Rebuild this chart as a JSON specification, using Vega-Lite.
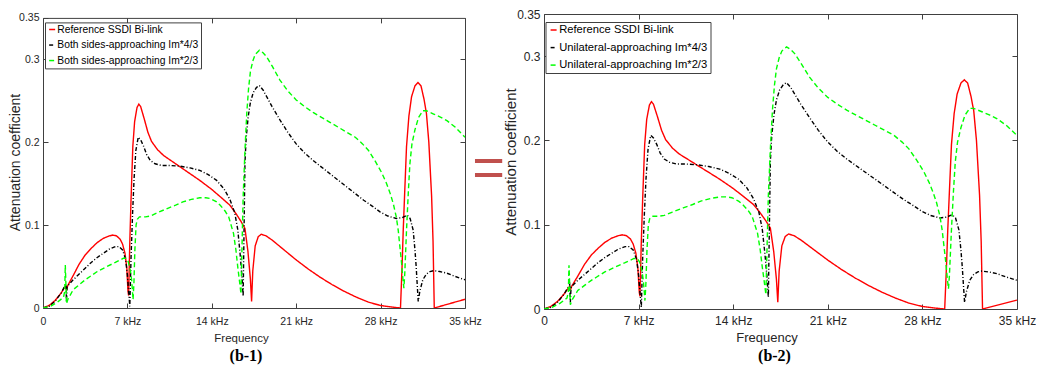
{
"$schema":"https://vega.github.io/schema/vega-lite/v6.json",
"padding":{"left":8,"top":8,"right":0,"bottom":0},
"datasets":{"curves":[
{"f":0,"v":0,"s":"ref"},{"f":0.5,"v":0.003,"s":"ref"},{"f":1.0,"v":0.009,"s":"ref"},{"f":1.5,"v":0.018,"s":"ref"},{"f":1.85,"v":0.026,"s":"ref"},{"f":1.95,"v":0.022,"s":"ref"},{"f":2.05,"v":0.027,"s":"ref"},{"f":2.5,"v":0.039,"s":"ref"},{"f":3.0,"v":0.053,"s":"ref"},{"f":3.5,"v":0.064,"s":"ref"},{"f":4.0,"v":0.072,"s":"ref"},{"f":4.5,"v":0.079,"s":"ref"},{"f":5.0,"v":0.084,"s":"ref"},{"f":5.5,"v":0.087,"s":"ref"},{"f":5.8,"v":0.088,"s":"ref"},{"f":6.1,"v":0.087,"s":"ref"},{"f":6.4,"v":0.083,"s":"ref"},{"f":6.6,"v":0.077,"s":"ref"},{"f":6.8,"v":0.066,"s":"ref"},{"f":6.95,"v":0.048,"s":"ref"},{"f":7.05,"v":0.02,"s":"ref"},{"f":7.1,"v":0.015,"s":"ref"},{"f":7.2,"v":0.08,"s":"ref"},{"f":7.3,"v":0.13,"s":"ref"},{"f":7.45,"v":0.195,"s":"ref"},{"f":7.6,"v":0.225,"s":"ref"},{"f":7.8,"v":0.242,"s":"ref"},{"f":7.95,"v":0.246,"s":"ref"},{"f":8.1,"v":0.243,"s":"ref"},{"f":8.4,"v":0.228,"s":"ref"},{"f":8.7,"v":0.212,"s":"ref"},{"f":9.0,"v":0.201,"s":"ref"},{"f":9.5,"v":0.191,"s":"ref"},{"f":10.0,"v":0.184,"s":"ref"},{"f":10.8,"v":0.176,"s":"ref"},{"f":11.5,"v":0.169,"s":"ref"},{"f":12.2,"v":0.162,"s":"ref"},{"f":13.0,"v":0.154,"s":"ref"},{"f":14.0,"v":0.143,"s":"ref"},{"f":14.8,"v":0.133,"s":"ref"},{"f":15.5,"v":0.124,"s":"ref"},{"f":16.0,"v":0.114,"s":"ref"},{"f":16.4,"v":0.105,"s":"ref"},{"f":16.75,"v":0.096,"s":"ref"},{"f":17.0,"v":0.068,"s":"ref"},{"f":17.2,"v":0.035,"s":"ref"},{"f":17.3,"v":0.008,"s":"ref"},{"f":17.4,"v":0.045,"s":"ref"},{"f":17.6,"v":0.075,"s":"ref"},{"f":17.85,"v":0.086,"s":"ref"},{"f":18.1,"v":0.089,"s":"ref"},{"f":18.5,"v":0.087,"s":"ref"},{"f":19.0,"v":0.082,"s":"ref"},{"f":20.0,"v":0.07,"s":"ref"},{"f":21.0,"v":0.058,"s":"ref"},{"f":22.0,"v":0.047,"s":"ref"},{"f":23.0,"v":0.037,"s":"ref"},{"f":24.0,"v":0.028,"s":"ref"},{"f":25.0,"v":0.02,"s":"ref"},{"f":26.0,"v":0.013,"s":"ref"},{"f":27.0,"v":0.007,"s":"ref"},{"f":28.0,"v":0.003,"s":"ref"},{"f":29.0,"v":0.001,"s":"ref"},{"f":29.65,"v":0.0,"s":"ref"},{"f":29.78,"v":0.05,"s":"ref"},{"f":29.88,"v":0.095,"s":"ref"},{"f":30.0,"v":0.14,"s":"ref"},{"f":30.15,"v":0.195,"s":"ref"},{"f":30.35,"v":0.232,"s":"ref"},{"f":30.57,"v":0.255,"s":"ref"},{"f":30.85,"v":0.268,"s":"ref"},{"f":31.1,"v":0.272,"s":"ref"},{"f":31.35,"v":0.268,"s":"ref"},{"f":31.6,"v":0.252,"s":"ref"},{"f":31.8,"v":0.235,"s":"ref"},{"f":32.0,"v":0.2,"s":"ref"},{"f":32.23,"v":0.135,"s":"ref"},{"f":32.35,"v":0.08,"s":"ref"},{"f":32.45,"v":0.0,"s":"ref"},{"f":35.0,"v":0.0105,"s":"ref"},
{"f":0,"v":0,"s":"k43"},{"f":0.5,"v":0.002,"s":"k43"},{"f":1.0,"v":0.008,"s":"k43"},{"f":1.5,"v":0.018,"s":"k43"},{"f":1.9,"v":0.029,"s":"k43"},{"f":1.95,"v":0.008,"s":"k43"},{"f":2.0,"v":0.026,"s":"k43"},{"f":2.5,"v":0.034,"s":"k43"},{"f":3.0,"v":0.041,"s":"k43"},{"f":3.5,"v":0.048,"s":"k43"},{"f":4.0,"v":0.055,"s":"k43"},{"f":4.5,"v":0.061,"s":"k43"},{"f":5.0,"v":0.066,"s":"k43"},{"f":5.5,"v":0.071,"s":"k43"},{"f":6.0,"v":0.074,"s":"k43"},{"f":6.3,"v":0.074,"s":"k43"},{"f":6.6,"v":0.07,"s":"k43"},{"f":6.85,"v":0.059,"s":"k43"},{"f":7.0,"v":0.04,"s":"k43"},{"f":7.1,"v":0.02,"s":"k43"},{"f":7.2,"v":0.002,"s":"k43"},{"f":7.3,"v":0.06,"s":"k43"},{"f":7.43,"v":0.114,"s":"k43"},{"f":7.55,"v":0.155,"s":"k43"},{"f":7.7,"v":0.19,"s":"k43"},{"f":7.9,"v":0.206,"s":"k43"},{"f":8.1,"v":0.203,"s":"k43"},{"f":8.35,"v":0.195,"s":"k43"},{"f":8.6,"v":0.185,"s":"k43"},{"f":8.9,"v":0.178,"s":"k43"},{"f":9.3,"v":0.174,"s":"k43"},{"f":9.8,"v":0.172,"s":"k43"},{"f":10.5,"v":0.172,"s":"k43"},{"f":11.4,"v":0.171,"s":"k43"},{"f":12.2,"v":0.169,"s":"k43"},{"f":13.0,"v":0.166,"s":"k43"},{"f":13.7,"v":0.161,"s":"k43"},{"f":14.4,"v":0.154,"s":"k43"},{"f":15.0,"v":0.144,"s":"k43"},{"f":15.5,"v":0.131,"s":"k43"},{"f":15.9,"v":0.115,"s":"k43"},{"f":16.15,"v":0.095,"s":"k43"},{"f":16.35,"v":0.065,"s":"k43"},{"f":16.5,"v":0.038,"s":"k43"},{"f":16.6,"v":0.014,"s":"k43"},{"f":16.68,"v":0.1,"s":"k43"},{"f":16.75,"v":0.175,"s":"k43"},{"f":16.85,"v":0.205,"s":"k43"},{"f":17.02,"v":0.231,"s":"k43"},{"f":17.2,"v":0.248,"s":"k43"},{"f":17.44,"v":0.26,"s":"k43"},{"f":17.7,"v":0.266,"s":"k43"},{"f":17.94,"v":0.2685,"s":"k43"},{"f":18.25,"v":0.263,"s":"k43"},{"f":18.55,"v":0.255,"s":"k43"},{"f":19.0,"v":0.243,"s":"k43"},{"f":19.65,"v":0.227,"s":"k43"},{"f":20.3,"v":0.212,"s":"k43"},{"f":21.0,"v":0.198,"s":"k43"},{"f":21.7,"v":0.187,"s":"k43"},{"f":22.4,"v":0.178,"s":"k43"},{"f":23.1,"v":0.17,"s":"k43"},{"f":23.8,"v":0.162,"s":"k43"},{"f":24.5,"v":0.154,"s":"k43"},{"f":25.2,"v":0.146,"s":"k43"},{"f":25.9,"v":0.138,"s":"k43"},{"f":26.6,"v":0.13,"s":"k43"},{"f":27.3,"v":0.123,"s":"k43"},{"f":27.95,"v":0.116,"s":"k43"},{"f":28.6,"v":0.111,"s":"k43"},{"f":29.3,"v":0.108,"s":"k43"},{"f":29.8,"v":0.109,"s":"k43"},{"f":30.2,"v":0.112,"s":"k43"},{"f":30.45,"v":0.108,"s":"k43"},{"f":30.7,"v":0.094,"s":"k43"},{"f":30.85,"v":0.07,"s":"k43"},{"f":30.95,"v":0.05,"s":"k43"},{"f":31.05,"v":0.025,"s":"k43"},{"f":31.12,"v":0.008,"s":"k43"},{"f":31.25,"v":0.02,"s":"k43"},{"f":31.5,"v":0.034,"s":"k43"},{"f":31.8,"v":0.041,"s":"k43"},{"f":32.1,"v":0.044,"s":"k43"},{"f":32.4,"v":0.045,"s":"k43"},{"f":32.9,"v":0.044,"s":"k43"},{"f":33.5,"v":0.042,"s":"k43"},{"f":34.2,"v":0.038,"s":"k43"},{"f":35.0,"v":0.034,"s":"k43"},
{"f":0,"v":0,"s":"k23"},{"f":0.6,"v":0.002,"s":"k23"},{"f":1.2,"v":0.007,"s":"k23"},{"f":1.7,"v":0.013,"s":"k23"},{"f":1.8,"v":0.02,"s":"k23"},{"f":1.85,"v":0.052,"s":"k23"},{"f":1.95,"v":0.005,"s":"k23"},{"f":2.05,"v":0.01,"s":"k23"},{"f":2.5,"v":0.022,"s":"k23"},{"f":3.0,"v":0.028,"s":"k23"},{"f":3.5,"v":0.034,"s":"k23"},{"f":3.9,"v":0.038,"s":"k23"},{"f":4.5,"v":0.044,"s":"k23"},{"f":5.3,"v":0.05,"s":"k23"},{"f":6.0,"v":0.055,"s":"k23"},{"f":6.66,"v":0.06,"s":"k23"},{"f":6.9,"v":0.06,"s":"k23"},{"f":7.07,"v":0.056,"s":"k23"},{"f":7.25,"v":0.045,"s":"k23"},{"f":7.35,"v":0.034,"s":"k23"},{"f":7.47,"v":0.01,"s":"k23"},{"f":7.54,"v":0.03,"s":"k23"},{"f":7.62,"v":0.07,"s":"k23"},{"f":7.72,"v":0.1,"s":"k23"},{"f":7.82,"v":0.107,"s":"k23"},{"f":8.0,"v":0.11,"s":"k23"},{"f":8.5,"v":0.11,"s":"k23"},{"f":8.9,"v":0.111,"s":"k23"},{"f":9.5,"v":0.115,"s":"k23"},{"f":10.3,"v":0.12,"s":"k23"},{"f":11.0,"v":0.124,"s":"k23"},{"f":11.6,"v":0.128,"s":"k23"},{"f":12.3,"v":0.131,"s":"k23"},{"f":13.0,"v":0.133,"s":"k23"},{"f":13.5,"v":0.133,"s":"k23"},{"f":13.9,"v":0.132,"s":"k23"},{"f":14.4,"v":0.128,"s":"k23"},{"f":14.7,"v":0.124,"s":"k23"},{"f":15.1,"v":0.117,"s":"k23"},{"f":15.4,"v":0.11,"s":"k23"},{"f":15.6,"v":0.1,"s":"k23"},{"f":15.8,"v":0.09,"s":"k23"},{"f":16.0,"v":0.07,"s":"k23"},{"f":16.15,"v":0.05,"s":"k23"},{"f":16.3,"v":0.032,"s":"k23"},{"f":16.42,"v":0.017,"s":"k23"},{"f":16.5,"v":0.07,"s":"k23"},{"f":16.6,"v":0.134,"s":"k23"},{"f":16.75,"v":0.19,"s":"k23"},{"f":16.9,"v":0.235,"s":"k23"},{"f":17.05,"v":0.265,"s":"k23"},{"f":17.2,"v":0.285,"s":"k23"},{"f":17.4,"v":0.298,"s":"k23"},{"f":17.6,"v":0.306,"s":"k23"},{"f":17.95,"v":0.311,"s":"k23"},{"f":18.25,"v":0.308,"s":"k23"},{"f":18.55,"v":0.303,"s":"k23"},{"f":19.0,"v":0.292,"s":"k23"},{"f":19.65,"v":0.275,"s":"k23"},{"f":20.3,"v":0.262,"s":"k23"},{"f":21.0,"v":0.251,"s":"k23"},{"f":21.7,"v":0.243,"s":"k23"},{"f":22.4,"v":0.236,"s":"k23"},{"f":23.1,"v":0.23,"s":"k23"},{"f":23.8,"v":0.224,"s":"k23"},{"f":24.5,"v":0.218,"s":"k23"},{"f":25.2,"v":0.212,"s":"k23"},{"f":25.9,"v":0.206,"s":"k23"},{"f":26.5,"v":0.198,"s":"k23"},{"f":27.0,"v":0.19,"s":"k23"},{"f":27.6,"v":0.176,"s":"k23"},{"f":28.1,"v":0.163,"s":"k23"},{"f":28.5,"v":0.15,"s":"k23"},{"f":28.8,"v":0.138,"s":"k23"},{"f":29.05,"v":0.126,"s":"k23"},{"f":29.3,"v":0.11,"s":"k23"},{"f":29.46,"v":0.094,"s":"k23"},{"f":29.6,"v":0.074,"s":"k23"},{"f":29.74,"v":0.054,"s":"k23"},{"f":29.85,"v":0.035,"s":"k23"},{"f":29.93,"v":0.024,"s":"k23"},{"f":30.0,"v":0.04,"s":"k23"},{"f":30.15,"v":0.094,"s":"k23"},{"f":30.3,"v":0.14,"s":"k23"},{"f":30.43,"v":0.174,"s":"k23"},{"f":30.6,"v":0.198,"s":"k23"},{"f":30.85,"v":0.215,"s":"k23"},{"f":31.15,"v":0.23,"s":"k23"},{"f":31.5,"v":0.238,"s":"k23"},{"f":31.8,"v":0.238,"s":"k23"},{"f":32.1,"v":0.236,"s":"k23"},{"f":32.4,"v":0.234,"s":"k23"},{"f":33.0,"v":0.23,"s":"k23"},{"f":33.5,"v":0.226,"s":"k23"},{"f":34.2,"v":0.218,"s":"k23"},{"f":35.0,"v":0.206,"s":"k23"}
]},
"hconcat":[
{
"width":422,"height":294,
"data":{"name":"curves"},
"title":{"text":"(b-1)","orient":"bottom","anchor":"middle","font":"Liberation Serif","fontWeight":"bold","fontSize":16,"color":"#000","dx":-8,"offset":4},
"layer":[
{"mark":{"type":"line","strokeWidth":1.4,"clip":true},
"encoding":{
"x":{"field":"f","type":"quantitative","scale":{"domain":[0,35],"nice":false},"axis":{"orient":"bottom","values":[0,7,14,21,28,35],"labelExpr":"datum.value == 0 ? '0' : datum.value + ' kHz'","labelFontSize":10.5,"labelBaseline":"alphabetic","labelPadding":21,"title":"Frequency","titleFontSize":11.5,"titleX":198,"titleY":33.5,"titleBaseline":"alphabetic","titleAlign":"center"}},
"y":{"field":"v","type":"quantitative","scale":{"domain":[0,0.35],"nice":false,"range":[294,3.9]},"axis":{"orient":"left","values":[0,0.1,0.2,0.3,0.35],"format":"~g","labelFontSize":10.5,"labelPadding":9,"title":"Attenuation coefficient","titleFontSize":14,"titleAngle":270,"titleBaseline":"alphabetic","titleAlign":"center","titleX":-24,"titleY":148}},
"color":{"field":"s","type":"nominal","scale":{"domain":["ref","k43","k23"],"range":["#ff0000","#000000","#00ff00"]},
"legend":{"orient":"none","legendX":2,"legendY":8.4,"title":null,"symbolType":"stroke","symbolSize":36,"symbolStrokeWidth":1.5,"labelFontSize":10.3,"labelColor":"#000","strokeColor":"#404040","fillColor":"#fff","padding":2,"rowPadding":4.5,"labelOffset":0,"labelLimit":300,"labelExpr":"datum.label == 'ref' ? 'Reference SSDI Bi-link' : datum.label == 'k43' ? 'Both sides-approaching Im*4/3' : 'Both sides-approaching Im*2/3'"}},
"strokeDash":{"field":"s","type":"nominal","scale":{"domain":["ref","k43","k23"],"range":[[1,0],[4,2,1,2],[5,3]]},
"legend":{"orient":"none","legendX":2,"legendY":8.4,"title":null,"symbolType":"stroke","symbolSize":36,"symbolStrokeWidth":1.5,"labelFontSize":10.3,"labelColor":"#000","strokeColor":"#404040","fillColor":"#fff","padding":2,"rowPadding":4.5,"labelOffset":0,"labelLimit":300,"labelExpr":"datum.label == 'ref' ? 'Reference SSDI Bi-link' : datum.label == 'k43' ? 'Both sides-approaching Im*4/3' : 'Both sides-approaching Im*2/3'"}}
}},
{"mark":{"type":"point","opacity":0},
"encoding":{
"x":{"field":"f","type":"quantitative","scale":{"domain":[0,35],"nice":false},"axis":{"orient":"top","offset":-3.9,"values":[0,7,14,21,28,35],"labels":false,"title":null}},
"y":{"field":"v","type":"quantitative","scale":{"domain":[0,0.35],"nice":false,"range":[294,3.9]},"axis":{"orient":"right","values":[0.1,0.2,0.3],"labels":false,"title":null}}
}}
],
"resolve":{"axis":{"x":"independent","y":"independent"}}
},
{
"width":79,"height":295,
"data":{"values":[{"sym":"="}]},
"mark":{"type":"text","font":"Liberation Sans","fontSize":56,"color":"#c0504d","baseline":"middle","align":"center","dx":-16,"dy":7},
"encoding":{"text":{"field":"sym","type":"nominal"}}
},
{
"width":473,"height":295,
"data":{"name":"curves"},
"title":{"text":"(b-2)","orient":"bottom","anchor":"middle","font":"Liberation Serif","fontWeight":"bold","fontSize":16,"color":"#000","dx":-6,"offset":4},
"layer":[
{"mark":{"type":"line","strokeWidth":1.4,"clip":true},
"encoding":{
"x":{"field":"f","type":"quantitative","scale":{"domain":[0,35],"nice":false},"axis":{"orient":"bottom","values":[0,7,14,21,28,35],"labelExpr":"datum.value == 0 ? '0' : datum.value + ' kHz'","labelFontSize":12,"labelBaseline":"alphabetic","labelPadding":20,"title":"Frequency","titleFontSize":13,"titleX":222.5,"titleY":32.4,"titleBaseline":"alphabetic","titleAlign":"center"}},
"y":{"field":"v","type":"quantitative","scale":{"domain":[0,0.35],"nice":false},"axis":{"orient":"left","values":[0,0.1,0.2,0.3,0.35],"format":"~g","labelFontSize":12,"labelPadding":9,"title":"Attenuation coefficient","titleFontSize":15,"titleAngle":270,"titleBaseline":"alphabetic","titleAlign":"center","titleX":-28.5,"titleY":147.5}},
"color":{"field":"s","type":"nominal","scale":{"domain":["ref","k43","k23"],"range":["#ff0000","#000000","#00ff00"]},
"legend":{"orient":"none","legendX":1.5,"legendY":8,"title":null,"symbolType":"stroke","symbolSize":36,"symbolStrokeWidth":1.5,"labelFontSize":11.2,"labelColor":"#000","strokeColor":"#404040","fillColor":"#fff","padding":2.5,"rowPadding":5.5,"labelOffset":0,"labelLimit":300,"labelExpr":"datum.label == 'ref' ? 'Reference SSDI Bi-link' : datum.label == 'k43' ? 'Unilateral-approaching Im*4/3' : 'Unilateral-approaching Im*2/3'"}},
"strokeDash":{"field":"s","type":"nominal","scale":{"domain":["ref","k43","k23"],"range":[[1,0],[4,2,1,2],[5,3]]},
"legend":{"orient":"none","legendX":1.5,"legendY":8,"title":null,"symbolType":"stroke","symbolSize":36,"symbolStrokeWidth":1.5,"labelFontSize":11.2,"labelColor":"#000","strokeColor":"#404040","fillColor":"#fff","padding":2.5,"rowPadding":5.5,"labelOffset":0,"labelLimit":300,"labelExpr":"datum.label == 'ref' ? 'Reference SSDI Bi-link' : datum.label == 'k43' ? 'Unilateral-approaching Im*4/3' : 'Unilateral-approaching Im*2/3'"}}
}},
{"mark":{"type":"point","opacity":0},
"encoding":{
"x":{"field":"f","type":"quantitative","scale":{"domain":[0,35],"nice":false},"axis":{"orient":"top","values":[0,7,14,21,28,35],"labels":false,"title":null}},
"y":{"field":"v","type":"quantitative","scale":{"domain":[0,0.35],"nice":false},"axis":{"orient":"right","values":[0.1,0.2,0.3],"labels":false,"title":null}}
}}
],
"resolve":{"axis":{"x":"independent","y":"independent"}}
}
],
"spacing":0,
"bounds":"flush",
"resolve":{"scale":{"color":"independent","strokeDash":"independent"},"legend":{"color":"independent","strokeDash":"independent"}},
"config":{
"view":{"stroke":null},
"font":"Liberation Sans",
"axis":{"grid":false,"domainColor":"#404040","tickColor":"#404040","tickSize":-5,"domainWidth":1,"tickWidth":1,"labelColor":"#262626","titleColor":"#262626","titleFontWeight":"normal","labelFont":"Liberation Sans","titleFont":"Liberation Sans","labelFlush":false,"labelOverlap":false},
"legend":{"labelFont":"Liberation Sans"}
}
}
